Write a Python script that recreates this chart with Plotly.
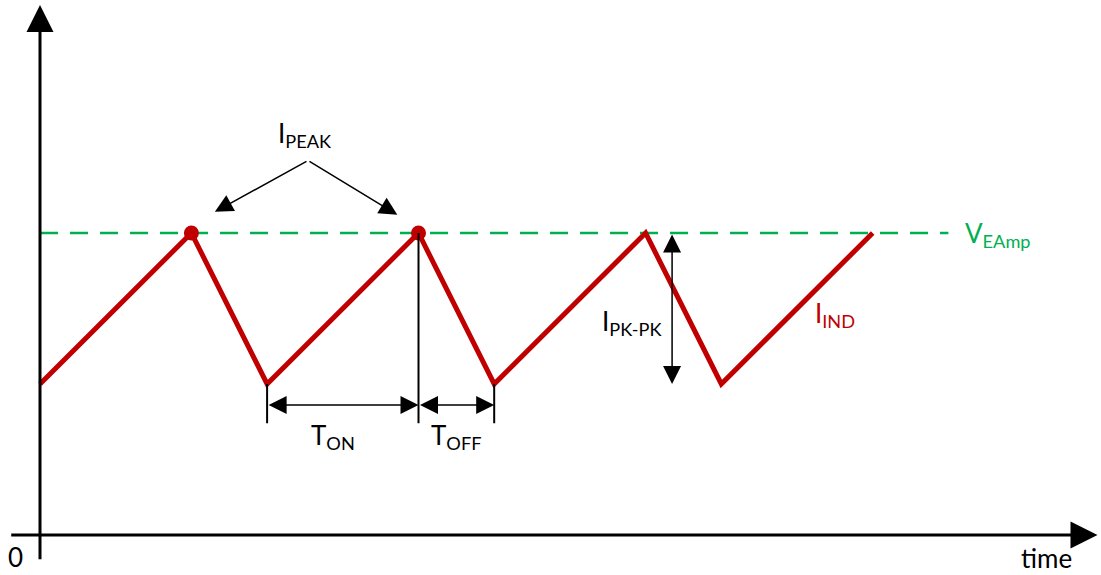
import plotly.graph_objects as go

# Inductor current waveform (time in T_OFF units, current in ripple units)
time_pts = [0, 2, 3, 5, 6, 8, 9, 11]
current_pts = [1, 2, 1, 2, 1, 2, 1, 2]

# Peaks highlighted with dots
peak_t = [2, 5]
peak_i = [2, 2]

# Error amplifier threshold
v_eamp = 2
v_eamp_t = [0, 12]

RED = '#C00000'
GREEN = '#00B050'
FONT = 'Lato'

fig = go.Figure()

# Threshold line
fig.add_trace(go.Scatter(
    x=v_eamp_t, y=[v_eamp, v_eamp], mode='lines',
    line=dict(color=GREEN, width=2.5, dash='18px,12px'),
    hoverinfo='skip'
))

# Inductor current
fig.add_trace(go.Scatter(
    x=time_pts, y=current_pts, mode='lines',
    line=dict(color=RED, width=5),
    hoverinfo='skip'
))

fig.add_trace(go.Scatter(
    x=peak_t, y=peak_i, mode='markers',
    marker=dict(color=RED, size=15),
    hoverinfo='skip'
))

# Guide ticks for T_ON / T_OFF
for t0, i0, i1 in [(3, 1, 0.74), (6, 1, 0.74), (5, 2, 0.74)]:
    fig.add_shape(type='line', x0=t0, x1=t0, y0=i0, y1=i1,
                  line=dict(color='black', width=2))

def arrow(x, y, ax, ay, width=1.5, size=2.4, both=False):
    fig.add_annotation(
        x=x, y=y, ax=ax, ay=ay, xref='x', yref='y', axref='x', ayref='y',
        text='', showarrow=True, arrowhead=2, arrowsize=size,
        arrowwidth=width, arrowcolor='black',
        arrowside='end+start' if both else 'end',
        startarrowhead=2, startarrowsize=size
    )

# Axes
arrow(0, 3.51, 0, -0.17, width=3, size=1.8)
arrow(13.97, 0, -0.4, 0, width=3, size=1.8)

# I_PEAK arrows
arrow(2.31, 2.14, 3.54, 2.48)
arrow(4.72, 2.12, 3.54, 2.48)

# T_ON / T_OFF / I_PK-PK dimension arrows
arrow(5, 0.861, 3, 0.861, both=True)
arrow(6, 0.861, 5, 0.861, both=True)
arrow(8.35, 1, 8.35, 2, both=True)

def label(x, y, text, color='black', size=26):
    fig.add_annotation(x=x, y=y, xref='x', yref='y', text=text, borderpad=0,
                       showarrow=False, font=dict(family=FONT, size=size, color=color))

label(3.5, 2.65, 'I<sub>PEAK</sub>')
label(3.87, 0.65, 'T<sub>ON</sub>')
label(5.5, 0.65, 'T<sub>OFF</sub>')
label(7.82, 1.41, 'I<sub>PK-PK</sub>')
label(10.5, 1.46, 'I<sub>IND</sub>', color=RED)
label(12.66, 1.99, 'V<sub>EAmp</sub>', color=GREEN)
label(-0.33, -0.146, '0')
label(13.3, -0.15, 'time')

fig.update_layout(
    width=1101, height=575,
    margin=dict(l=0, r=0, t=0, b=0),
    plot_bgcolor='white', paper_bgcolor='white',
    showlegend=False,
    xaxis=dict(range=[-0.5284, 14.016], visible=False, fixedrange=True),
    yaxis=dict(range=[-0.265, 3.543], visible=False, fixedrange=True),
)

fig.write_html("out.html", config={'displayModeBar': False},
               post_script="document.body.style.margin='0';")
